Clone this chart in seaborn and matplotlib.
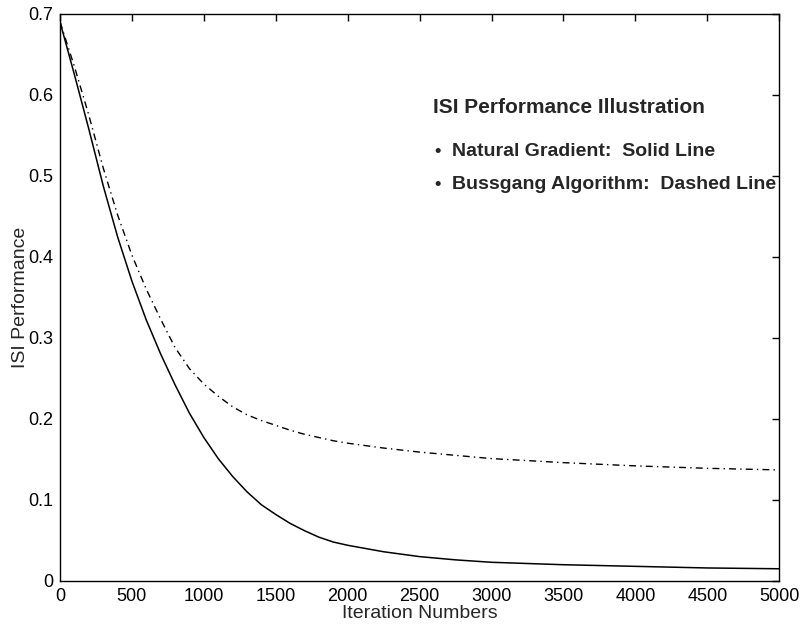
import matplotlib
matplotlib.use("Agg")
import matplotlib.pyplot as plt
import pandas as pd
import seaborn as sns

# iteration grid and ISI values
iters = [0, 100, 200, 300, 400, 500, 600, 700, 800, 900, 1000, 1100, 1200,
         1300, 1400, 1500, 1600, 1700, 1800, 1900, 2000, 2250, 2500, 2750,
         3000, 3500, 4000, 4500, 5000]
natural_gradient = [0.690, 0.625, 0.558, 0.488, 0.425, 0.370, 0.322, 0.280,
                    0.242, 0.207, 0.177, 0.151, 0.129, 0.110, 0.094, 0.082,
                    0.071, 0.062, 0.054, 0.048, 0.044, 0.036, 0.030, 0.026,
                    0.023, 0.020, 0.018, 0.016, 0.015]
bussgang = [0.690, 0.635, 0.575, 0.510, 0.452, 0.402, 0.360, 0.323, 0.288,
            0.262, 0.243, 0.228, 0.215, 0.205, 0.198, 0.192, 0.186, 0.181,
            0.177, 0.173, 0.170, 0.164, 0.159, 0.155, 0.151, 0.146, 0.142,
            0.139, 0.137]

x_ticks = [0, 500, 1000, 1500, 2000, 2500, 3000, 3500, 4000, 4500, 5000]
y_ticks = [0, 0.1, 0.2, 0.3, 0.4, 0.5, 0.6, 0.7]
y_tick_labels = ["0", "0.1", "0.2", "0.3", "0.4", "0.5", "0.6", "0.7"]

df = pd.DataFrame({"iter": iters, "natural": natural_gradient, "bussgang": bussgang})

sns.set_style("white")
plt.rcParams["font.family"] = ["Liberation Sans", "DejaVu Sans"]

fig = plt.figure(figsize=(8, 6.26), dpi=100)
ax = fig.add_axes([0.075, 0.072, 0.899, 0.906])

sns.lineplot(data=df, x="iter", y="natural", color="black", lw=1.1, ax=ax)
sns.lineplot(data=df, x="iter", y="bussgang", color="black", lw=1.0,
             linestyle=(0, (5, 3, 1, 3)), ax=ax)

ax.set_xlim(0, 5000)
ax.set_ylim(0, 0.7)
ax.set_xticks(x_ticks)
ax.set_yticks(y_ticks)
ax.set_yticklabels(y_tick_labels)
ax.tick_params(direction="in", length=5, width=1, top=True, right=True,
               labelsize=13, colors="black", pad=5)
for s in ax.spines.values():
    s.set_color("black")
    s.set_linewidth(1.0)

ax.set_xlabel("Iteration Numbers", fontsize=14, labelpad=0)
ax.set_ylabel("ISI Performance", fontsize=14, labelpad=-1)

# annotation text in the upper right
ax.text(2594, 0.584, "ISI Performance Illustration", fontsize=15,
        fontweight="bold", va="center", ha="left")
for yy, txt in [(0.530, "Natural Gradient:  Solid Line"),
                (0.489, "Bussgang Algorithm:  Dashed Line")]:
    ax.text(2622, yy, "\u2022", fontsize=13, fontweight="bold", va="center", ha="center")
    ax.text(2726, yy, txt, fontsize=14, fontweight="bold", va="center", ha="left")

fig.savefig("out.png", dpi=100)
